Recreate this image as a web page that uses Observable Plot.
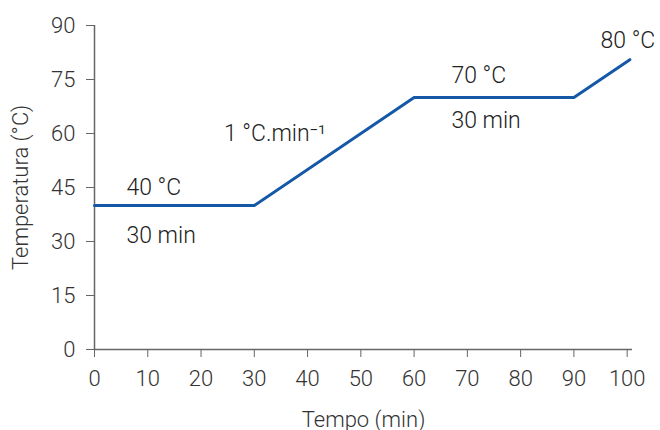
<!DOCTYPE html>
<html>
<head>
<meta charset="utf-8">
<script src="https://cdn.jsdelivr.net/npm/d3@7"></script>
<script src="https://cdn.jsdelivr.net/npm/@observablehq/plot@0.6"></script>
<style>
  html, body { margin: 0; padding: 0; background: #fff; }
  svg text { font-weight: 300; }
</style>
</head>
<body>
<div id="chart"></div>
<script>
const time = [0, 30, 60, 90, 100.5];
const temp = [40, 40, 70, 70, 80.5];
const xTicks = [0, 10, 20, 30, 40, 50, 60, 70, 80, 90, 100];
const yTicks = [0, 15, 30, 45, 60, 75, 90];
const labels = ["40 °C", "30 min", "1 °C.min⁻¹", "70 °C", "30 min", "80 °C"];
const labelX = [6, 6, 24.3, 67, 67, 95];
const labelY = [45, 31.5, 60, 76, 63.5, 85.8];

const series = time.map((t, i) => ({t, v: temp[i]}));
const notes = labels.map((s, i) => ({s, x: labelX[i], y: labelY[i]}));

const font = "Roboto, 'Liberation Sans', sans-serif";
const axisColor = "#666";

const chart = Plot.plot({
  width: 660,
  height: 430,
  marginLeft: 94,
  marginRight: 28,
  marginTop: 25,
  marginBottom: 81,
  style: {fontFamily: font, fontSize: "22px", color: "#333", background: "#fff"},
  x: {domain: [0, 101]},
  y: {domain: [0, 90]},
  marks: [
    Plot.axisX({ticks: xTicks, tickSize: 8, tickPadding: 13, fontSize: 22, stroke: axisColor, fill: "#333",
      label: "Tempo (min)", labelAnchor: "center", labelArrow: "none", labelOffset: 77}),
    Plot.axisY({ticks: yTicks, tickSize: 8, tickPadding: 11, fontSize: 22, stroke: axisColor, fill: "#333",
      label: "Temperatura (°C)", labelAnchor: "center", labelArrow: "none", labelOffset: 82}),
    Plot.ruleY([0], {stroke: axisColor, strokeWidth: 1.5}),
    Plot.ruleX([0], {stroke: axisColor, strokeWidth: 1.5}),
    Plot.line(series, {x: "t", y: "v", stroke: "#1558a8", strokeWidth: 3, clip: false}),
    Plot.text(notes, {x: "x", y: "y", text: "s", textAnchor: "start", fontSize: 23, fill: "#222"})
  ]
});
document.getElementById("chart").appendChild(chart);
</script>
</body>
</html>
